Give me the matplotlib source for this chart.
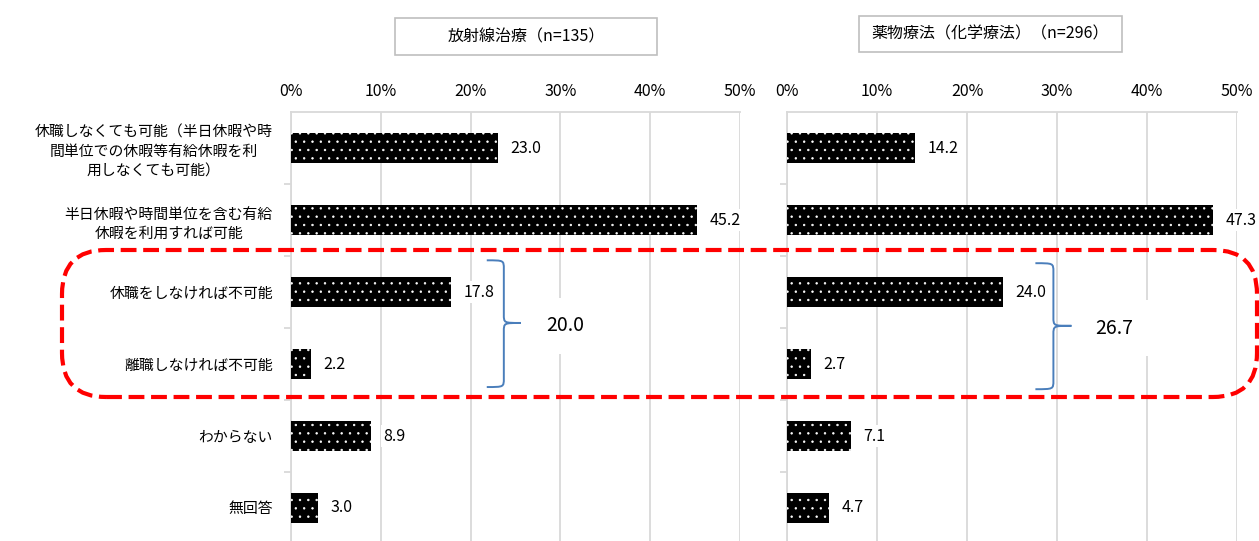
import matplotlib as mpl
import matplotlib.pyplot as plt
from matplotlib.path import Path
from matplotlib.patches import PathPatch, FancyBboxPatch, Rectangle
import numpy as np

categories = [
    '休職しなくても可能（半日休暇や時\n間単位での休暇等有給休暇を利\n用しなくても可能）',
    '半日休暇や時間単位を含む有給\n休暇を利用すれば可能',
    '休職をしなければ不可能',
    '離職しなければ不可能',
    'わからない',
    '無回答',
]
radiation = [23.0, 45.2, 17.8, 2.2, 8.9, 3.0]
chemo = [14.2, 47.3, 24.0, 2.7, 7.1, 4.7]
titles = ['放射線治療（n=135）', '薬物療法（化学療法）（n=296）']
group_totals = ['20.0', '26.7']
x_ticks = [0, 10, 20, 30, 40, 50]

W, H = 1259, 541
GRID = '#d9d9d9'
BLUE = '#4a7ebb'

plt.rcParams['font.family'] = ['Noto Sans CJK JP', 'DejaVu Sans']
plt.rcParams['hatch.linewidth'] = 0.5


def fig_rect(x0, y0, x1, y1):
    # pixel box (top-left origin) -> figure fraction [l, b, w, h]
    return [x0 / W, 1 - y1 / H, (x1 - x0) / W, (y1 - y0) / H]


def brace(ax, x_end, x_spine, x_tip, y_top, y_bot, y_mid, ry=0.12):
    C4 = Path.CURVE4
    verts = [
        (x_end, y_top), (x_spine, y_top), (x_spine, y_top), (x_spine, y_top + ry),
        (x_spine, y_mid - ry),
        (x_spine, y_mid), (x_spine, y_mid), (x_tip, y_mid),
        (x_tip, y_mid),
        (x_spine, y_mid), (x_spine, y_mid), (x_spine, y_mid + ry),
        (x_spine, y_bot - ry),
        (x_spine, y_bot), (x_spine, y_bot), (x_end, y_bot),
    ]
    codes = [Path.MOVETO, C4, C4, C4, Path.LINETO, C4, C4, C4,
             Path.MOVETO, C4, C4, C4, Path.LINETO, C4, C4, C4]
    ax.add_patch(PathPatch(Path(verts, codes), fill=False, edgecolor=BLUE,
                           lw=1.4, clip_on=False, zorder=6))


def draw_panel(ax, values, show_labels):
    y = np.arange(len(categories))
    ax.barh(y, values, height=0.42, color='black', edgecolor='white',
            hatch='..', linewidth=0, zorder=3)
    for yi, v in zip(y, values):
        ax.annotate(f'{v:.1f}', (v, yi), xytext=(9, 0), textcoords='offset points',
                    ha='left', va='center', fontsize=11.5, zorder=4,
                    bbox=dict(boxstyle='square,pad=0.15', fc='white', ec='none'))
    ax.set_xlim(0, 50)
    ax.set_ylim(len(categories) - 0.5, -0.5)
    ax.set_xticks(x_ticks)
    ax.set_xticklabels([f'{t}%' for t in x_ticks], fontsize=11.5)
    ax.xaxis.tick_top()
    ax.tick_params(axis='x', length=0, pad=9)
    ax.grid(axis='x', color=GRID, lw=1.3, zorder=0)
    ax.set_yticks(y)
    if show_labels:
        ax.set_yticklabels(categories, fontsize=10.7, linespacing=1.5)
        for t in ax.get_yticklabels():
            t.set_multialignment('center')
    else:
        ax.set_yticklabels([])
    ax.tick_params(axis='y', length=0, pad=13)
    ax.set_yticks(np.arange(len(categories) - 1) + 0.5, minor=True)
    ax.tick_params(axis='y', which='minor', length=5, color=GRID, width=1.3)
    for s in ['bottom', 'right']:
        ax.spines[s].set_visible(False)
    for s in ['top', 'left']:
        ax.spines[s].set_color(GRID)
        ax.spines[s].set_linewidth(1.3)


fig = plt.figure(figsize=(W / 100, H / 100), dpi=100)
ax1 = fig.add_axes(fig_rect(291, 112, 740, 544))
ax2 = fig.add_axes(fig_rect(787, 112, 1237, 544))
draw_panel(ax1, radiation, True)
draw_panel(ax2, chemo, False)

# panel titles in boxes
for (x0, y0, x1, y1), title in zip([(395, 18, 657, 55), (859, 16, 1122, 52)], titles):
    fig.patches.append(Rectangle((x0 / W, 1 - y1 / H), (x1 - x0) / W, (y1 - y0) / H,
                                 transform=fig.transFigure, fill=False,
                                 edgecolor='#bfbfbf', lw=1.2))
    fig.text((x0 + x1) / 2 / W, 1 - (y0 + y1) / 2 / H, title, ha='center',
             va='center', fontsize=11.5)

# braces summing the two "impossible" categories
brace(ax1, 21.8, 23.7, 25.6, 1.56, 3.32, 2.43)
brace(ax2, 27.6, 29.6, 31.6, 1.60, 3.35, 2.47)
ax1.text(30.5, 2.47, group_totals[0], ha='center', va='center', fontsize=14,
         zorder=5, bbox=dict(boxstyle='square,pad=0.9', fc='white', ec='none'))
ax2.text(36.4, 2.5, group_totals[1], ha='center', va='center', fontsize=14,
         zorder=5, bbox=dict(boxstyle='square,pad=0.9', fc='white', ec='none'))

# red dashed rounded frame around the two categories
fig.patches.append(FancyBboxPatch((62 / W, 1 - 397 / H), (1257 - 62) / W, (397 - 250) / H,
                                  boxstyle='round,pad=0,rounding_size=0.035',
                                  transform=fig.transFigure, fill=False,
                                  edgecolor='#ff0000', lw=3,
                                  linestyle=(0, (3.8, 1.6)),
                                  mutation_aspect=W / H, zorder=10))

fig.savefig('out.png', dpi=100)
